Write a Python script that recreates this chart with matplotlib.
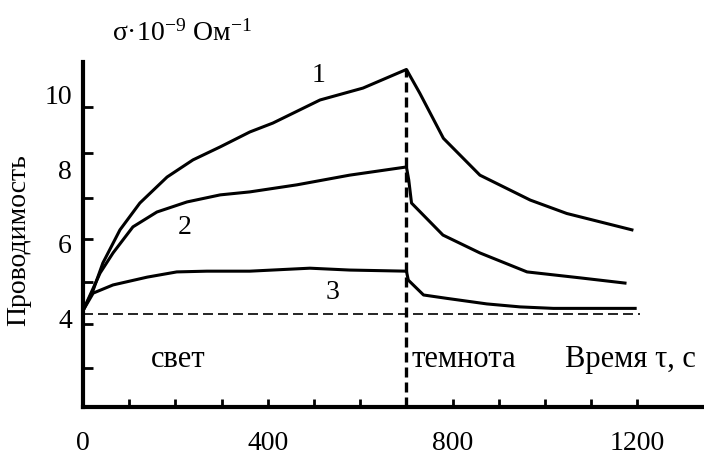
"""Conductivity vs time under light and in the dark (three samples)."""

import matplotlib
matplotlib.use("Agg")
import matplotlib.pyplot as plt

plt.rcParams["font.family"] = ["Liberation Serif", "DejaVu Serif"]
plt.rcParams["mathtext.fontset"] = "custom"
plt.rcParams["mathtext.rm"] = "Liberation Serif"
plt.rcParams["mathtext.it"] = "Liberation Serif"

# curve 1
t1 = [0, 22, 43, 80, 123, 182, 238, 297, 361, 411, 513, 606, 700, 729, 780, 859, 968, 1047, 1188]
v1 = [4.2, 4.75, 5.48, 6.37, 7.09, 7.79, 8.25, 8.60, 9.00, 9.24, 9.86, 10.18, 10.68, 10.04, 8.83, 7.84, 7.17, 6.81, 6.37]
# curve 2
t2 = [0, 37, 65, 108, 160, 225, 297, 361, 463, 577, 700, 705, 711, 779, 859, 961, 1076, 1173]
v2 = [4.2, 5.21, 5.75, 6.45, 6.85, 7.12, 7.31, 7.39, 7.58, 7.84, 8.06, 7.71, 7.09, 6.23, 5.75, 5.24, 5.08, 4.94]
# curve 3
t3 = [0, 22, 65, 139, 203, 268, 361, 491, 577, 700, 704, 737, 787, 874, 946, 1018, 1195]
v3 = [4.2, 4.67, 4.89, 5.10, 5.24, 5.26, 5.26, 5.34, 5.29, 5.26, 5.02, 4.62, 4.53, 4.38, 4.30, 4.26, 4.26]

dark_start = 700
baseline = 4.12
baseline_end = 1205
x_ticks = list(range(0, 1300, 100))
x_labels = [str(t) if t % 400 == 0 else "" for t in x_ticks]
y_labels = [4, 6, 8, 10]
y_marks = [2.66, 3.84, 4.97, 6.12, 7.23, 8.44, 9.67]

fig = plt.figure(figsize=(7.04, 4.57), dpi=100)
ax = fig.add_axes([0.1179, 0.1094, 0.8821, 0.7549])

for t, v in [(t1, v1), (t2, v2), (t3, v3)]:
    ax.plot(t, v, color="black", linewidth=2.2, solid_joinstyle="round")

ax.plot([0, baseline_end], [baseline, baseline], color="black", linewidth=1.2, dashes=(6, 3))
ax.plot([dark_start, dark_start], [1.61, max(v1)], color="black", linewidth=2.4, dashes=(3, 1.5))

ax.set_xlim(0, 1344)
ax.set_ylim(1.61, 10.88)
for side in ["top", "right"]:
    ax.spines[side].set_visible(False)
for side in ["left", "bottom"]:
    ax.spines[side].set_linewidth(3)

ax.set_xticks(x_ticks)
ax.set_xticklabels(x_labels)
ax.tick_params(axis="x", direction="in", length=6, width=2, pad=17, labelsize=20)
ax.set_yticks(y_labels)
ax.set_yticks(y_marks, minor=True)
ax.tick_params(axis="y", which="major", length=0, pad=8, labelsize=20)
ax.tick_params(axis="y", which="minor", direction="in", length=7, width=2)

ax.set_ylabel("Проводимость", fontsize=20)
ax.yaxis.set_label_coords(-0.083, 0.484)

ax.text(509, 10.53, "1", fontsize=20, ha="center", va="center")
ax.text(221, 6.42, "2", fontsize=20, ha="center", va="center")
ax.text(541, 4.70, "3", fontsize=20, ha="center", va="center")
ax.text(206, 2.68, "свет", fontsize=22, ha="center", va="baseline")
ax.text(712, 2.68, "темнота", fontsize=22, ha="left", va="baseline")
ax.text(1043, 2.68, "Время τ, с", fontsize=22, ha="left", va="baseline")

fig.text(0.159, 0.928, r"σ·10$^{-9}$ Ом$^{-1}$", fontsize=20, ha="left", va="center")

fig.savefig("out.png", dpi=100)
